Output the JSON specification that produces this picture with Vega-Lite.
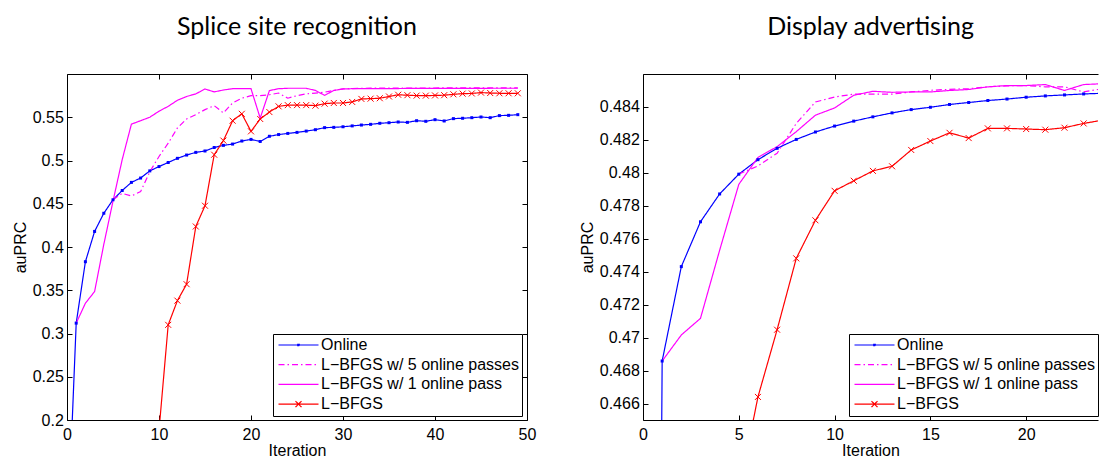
{
  "$schema": "https://vega.github.io/schema/vega-lite/v6.json",
  "padding": {"left": 12, "top": 14, "right": 0, "bottom": 0},
  "background": "white",
  "datasets": {
    "splice": [
      {"series": "Online", "iter": 0, "auprc": 0.05},
      {"series": "Online", "iter": 1, "auprc": 0.312},
      {"series": "Online", "iter": 2, "auprc": 0.383},
      {"series": "Online", "iter": 3, "auprc": 0.418},
      {"series": "Online", "iter": 4, "auprc": 0.439},
      {"series": "Online", "iter": 5, "auprc": 0.4546},
      {"series": "Online", "iter": 6, "auprc": 0.4653},
      {"series": "Online", "iter": 7, "auprc": 0.4747},
      {"series": "Online", "iter": 8, "auprc": 0.4797},
      {"series": "Online", "iter": 9, "auprc": 0.488},
      {"series": "Online", "iter": 10, "auprc": 0.493},
      {"series": "Online", "iter": 11, "auprc": 0.4977},
      {"series": "Online", "iter": 12, "auprc": 0.5025},
      {"series": "Online", "iter": 13, "auprc": 0.5063},
      {"series": "Online", "iter": 14, "auprc": 0.5094},
      {"series": "Online", "iter": 15, "auprc": 0.511},
      {"series": "Online", "iter": 16, "auprc": 0.515},
      {"series": "Online", "iter": 17, "auprc": 0.5175},
      {"series": "Online", "iter": 18, "auprc": 0.519},
      {"series": "Online", "iter": 19, "auprc": 0.5225},
      {"series": "Online", "iter": 20, "auprc": 0.5244},
      {"series": "Online", "iter": 21, "auprc": 0.522},
      {"series": "Online", "iter": 22, "auprc": 0.528},
      {"series": "Online", "iter": 23, "auprc": 0.53},
      {"series": "Online", "iter": 24, "auprc": 0.5313},
      {"series": "Online", "iter": 25, "auprc": 0.5325},
      {"series": "Online", "iter": 26, "auprc": 0.534},
      {"series": "Online", "iter": 27, "auprc": 0.5356},
      {"series": "Online", "iter": 28, "auprc": 0.538},
      {"series": "Online", "iter": 29, "auprc": 0.5383},
      {"series": "Online", "iter": 30, "auprc": 0.539},
      {"series": "Online", "iter": 31, "auprc": 0.54},
      {"series": "Online", "iter": 32, "auprc": 0.541},
      {"series": "Online", "iter": 33, "auprc": 0.5418},
      {"series": "Online", "iter": 34, "auprc": 0.543},
      {"series": "Online", "iter": 35, "auprc": 0.5437},
      {"series": "Online", "iter": 36, "auprc": 0.5445},
      {"series": "Online", "iter": 37, "auprc": 0.5441},
      {"series": "Online", "iter": 38, "auprc": 0.546},
      {"series": "Online", "iter": 39, "auprc": 0.5453},
      {"series": "Online", "iter": 40, "auprc": 0.5472},
      {"series": "Online", "iter": 41, "auprc": 0.5457},
      {"series": "Online", "iter": 42, "auprc": 0.5484},
      {"series": "Online", "iter": 43, "auprc": 0.5488},
      {"series": "Online", "iter": 44, "auprc": 0.5495},
      {"series": "Online", "iter": 45, "auprc": 0.5503},
      {"series": "Online", "iter": 46, "auprc": 0.5495},
      {"series": "Online", "iter": 47, "auprc": 0.5519},
      {"series": "Online", "iter": 48, "auprc": 0.5522},
      {"series": "Online", "iter": 49, "auprc": 0.553},
      {"series": "L−BFGS w/ 5 online passes", "iter": 5, "auprc": 0.4546},
      {"series": "L−BFGS w/ 5 online passes", "iter": 6, "auprc": 0.462},
      {"series": "L−BFGS w/ 5 online passes", "iter": 7, "auprc": 0.459},
      {"series": "L−BFGS w/ 5 online passes", "iter": 8, "auprc": 0.464},
      {"series": "L−BFGS w/ 5 online passes", "iter": 9, "auprc": 0.487},
      {"series": "L−BFGS w/ 5 online passes", "iter": 10, "auprc": 0.5046},
      {"series": "L−BFGS w/ 5 online passes", "iter": 11, "auprc": 0.52},
      {"series": "L−BFGS w/ 5 online passes", "iter": 12, "auprc": 0.5376},
      {"series": "L−BFGS w/ 5 online passes", "iter": 13, "auprc": 0.548},
      {"series": "L−BFGS w/ 5 online passes", "iter": 14, "auprc": 0.553},
      {"series": "L−BFGS w/ 5 online passes", "iter": 15, "auprc": 0.5588},
      {"series": "L−BFGS w/ 5 online passes", "iter": 16, "auprc": 0.5634},
      {"series": "L−BFGS w/ 5 online passes", "iter": 17, "auprc": 0.555},
      {"series": "L−BFGS w/ 5 online passes", "iter": 18, "auprc": 0.5665},
      {"series": "L−BFGS w/ 5 online passes", "iter": 19, "auprc": 0.572},
      {"series": "L−BFGS w/ 5 online passes", "iter": 20, "auprc": 0.575},
      {"series": "L−BFGS w/ 5 online passes", "iter": 21, "auprc": 0.575},
      {"series": "L−BFGS w/ 5 online passes", "iter": 22, "auprc": 0.576},
      {"series": "L−BFGS w/ 5 online passes", "iter": 23, "auprc": 0.578},
      {"series": "L−BFGS w/ 5 online passes", "iter": 24, "auprc": 0.572},
      {"series": "L−BFGS w/ 5 online passes", "iter": 25, "auprc": 0.575},
      {"series": "L−BFGS w/ 5 online passes", "iter": 26, "auprc": 0.577},
      {"series": "L−BFGS w/ 5 online passes", "iter": 27, "auprc": 0.578},
      {"series": "L−BFGS w/ 5 online passes", "iter": 28, "auprc": 0.579},
      {"series": "L−BFGS w/ 5 online passes", "iter": 29, "auprc": 0.581},
      {"series": "L−BFGS w/ 5 online passes", "iter": 30, "auprc": 0.5827},
      {"series": "L−BFGS w/ 5 online passes", "iter": 31, "auprc": 0.5832},
      {"series": "L−BFGS w/ 5 online passes", "iter": 32, "auprc": 0.5835},
      {"series": "L−BFGS w/ 5 online passes", "iter": 33, "auprc": 0.5836},
      {"series": "L−BFGS w/ 5 online passes", "iter": 34, "auprc": 0.5836},
      {"series": "L−BFGS w/ 5 online passes", "iter": 35, "auprc": 0.5837},
      {"series": "L−BFGS w/ 5 online passes", "iter": 36, "auprc": 0.5837},
      {"series": "L−BFGS w/ 5 online passes", "iter": 37, "auprc": 0.5838},
      {"series": "L−BFGS w/ 5 online passes", "iter": 38, "auprc": 0.5838},
      {"series": "L−BFGS w/ 5 online passes", "iter": 39, "auprc": 0.5838},
      {"series": "L−BFGS w/ 5 online passes", "iter": 40, "auprc": 0.5838},
      {"series": "L−BFGS w/ 5 online passes", "iter": 41, "auprc": 0.5839},
      {"series": "L−BFGS w/ 5 online passes", "iter": 42, "auprc": 0.5839},
      {"series": "L−BFGS w/ 5 online passes", "iter": 43, "auprc": 0.5839},
      {"series": "L−BFGS w/ 5 online passes", "iter": 44, "auprc": 0.5839},
      {"series": "L−BFGS w/ 5 online passes", "iter": 45, "auprc": 0.5839},
      {"series": "L−BFGS w/ 5 online passes", "iter": 46, "auprc": 0.584},
      {"series": "L−BFGS w/ 5 online passes", "iter": 47, "auprc": 0.584},
      {"series": "L−BFGS w/ 5 online passes", "iter": 48, "auprc": 0.584},
      {"series": "L−BFGS w/ 5 online passes", "iter": 49, "auprc": 0.584},
      {"series": "L−BFGS w/ 1 online pass", "iter": 1, "auprc": 0.312},
      {"series": "L−BFGS w/ 1 online pass", "iter": 2, "auprc": 0.335},
      {"series": "L−BFGS w/ 1 online pass", "iter": 3, "auprc": 0.3485},
      {"series": "L−BFGS w/ 1 online pass", "iter": 4, "auprc": 0.403},
      {"series": "L−BFGS w/ 1 online pass", "iter": 5, "auprc": 0.453},
      {"series": "L−BFGS w/ 1 online pass", "iter": 6, "auprc": 0.501},
      {"series": "L−BFGS w/ 1 online pass", "iter": 7, "auprc": 0.542},
      {"series": "L−BFGS w/ 1 online pass", "iter": 8, "auprc": 0.546},
      {"series": "L−BFGS w/ 1 online pass", "iter": 9, "auprc": 0.55},
      {"series": "L−BFGS w/ 1 online pass", "iter": 10, "auprc": 0.557},
      {"series": "L−BFGS w/ 1 online pass", "iter": 11, "auprc": 0.5626},
      {"series": "L−BFGS w/ 1 online pass", "iter": 12, "auprc": 0.5696},
      {"series": "L−BFGS w/ 1 online pass", "iter": 13, "auprc": 0.574},
      {"series": "L−BFGS w/ 1 online pass", "iter": 14, "auprc": 0.577},
      {"series": "L−BFGS w/ 1 online pass", "iter": 15, "auprc": 0.5827},
      {"series": "L−BFGS w/ 1 online pass", "iter": 16, "auprc": 0.5793},
      {"series": "L−BFGS w/ 1 online pass", "iter": 17, "auprc": 0.5815},
      {"series": "L−BFGS w/ 1 online pass", "iter": 18, "auprc": 0.583},
      {"series": "L−BFGS w/ 1 online pass", "iter": 19, "auprc": 0.583},
      {"series": "L−BFGS w/ 1 online pass", "iter": 20, "auprc": 0.583},
      {"series": "L−BFGS w/ 1 online pass", "iter": 21, "auprc": 0.549},
      {"series": "L−BFGS w/ 1 online pass", "iter": 22, "auprc": 0.5808},
      {"series": "L−BFGS w/ 1 online pass", "iter": 23, "auprc": 0.583},
      {"series": "L−BFGS w/ 1 online pass", "iter": 24, "auprc": 0.5835},
      {"series": "L−BFGS w/ 1 online pass", "iter": 25, "auprc": 0.5835},
      {"series": "L−BFGS w/ 1 online pass", "iter": 26, "auprc": 0.5835},
      {"series": "L−BFGS w/ 1 online pass", "iter": 27, "auprc": 0.581},
      {"series": "L−BFGS w/ 1 online pass", "iter": 28, "auprc": 0.5753},
      {"series": "L−BFGS w/ 1 online pass", "iter": 29, "auprc": 0.581},
      {"series": "L−BFGS w/ 1 online pass", "iter": 30, "auprc": 0.5827},
      {"series": "L−BFGS w/ 1 online pass", "iter": 31, "auprc": 0.583},
      {"series": "L−BFGS w/ 1 online pass", "iter": 32, "auprc": 0.5831},
      {"series": "L−BFGS w/ 1 online pass", "iter": 33, "auprc": 0.5831},
      {"series": "L−BFGS w/ 1 online pass", "iter": 34, "auprc": 0.5832},
      {"series": "L−BFGS w/ 1 online pass", "iter": 35, "auprc": 0.5832},
      {"series": "L−BFGS w/ 1 online pass", "iter": 36, "auprc": 0.5832},
      {"series": "L−BFGS w/ 1 online pass", "iter": 37, "auprc": 0.5833},
      {"series": "L−BFGS w/ 1 online pass", "iter": 38, "auprc": 0.5833},
      {"series": "L−BFGS w/ 1 online pass", "iter": 39, "auprc": 0.5833},
      {"series": "L−BFGS w/ 1 online pass", "iter": 40, "auprc": 0.5833},
      {"series": "L−BFGS w/ 1 online pass", "iter": 41, "auprc": 0.5834},
      {"series": "L−BFGS w/ 1 online pass", "iter": 42, "auprc": 0.5834},
      {"series": "L−BFGS w/ 1 online pass", "iter": 43, "auprc": 0.5834},
      {"series": "L−BFGS w/ 1 online pass", "iter": 44, "auprc": 0.5834},
      {"series": "L−BFGS w/ 1 online pass", "iter": 45, "auprc": 0.5834},
      {"series": "L−BFGS w/ 1 online pass", "iter": 46, "auprc": 0.5835},
      {"series": "L−BFGS w/ 1 online pass", "iter": 47, "auprc": 0.5835},
      {"series": "L−BFGS w/ 1 online pass", "iter": 48, "auprc": 0.5835},
      {"series": "L−BFGS w/ 1 online pass", "iter": 49, "auprc": 0.5835},
      {"series": "L−BFGS", "iter": 10, "auprc": 0.188},
      {"series": "L−BFGS", "iter": 11, "auprc": 0.31},
      {"series": "L−BFGS", "iter": 12, "auprc": 0.338},
      {"series": "L−BFGS", "iter": 13, "auprc": 0.357},
      {"series": "L−BFGS", "iter": 14, "auprc": 0.4237},
      {"series": "L−BFGS", "iter": 15, "auprc": 0.4477},
      {"series": "L−BFGS", "iter": 16, "auprc": 0.5067},
      {"series": "L−BFGS", "iter": 17, "auprc": 0.523},
      {"series": "L−BFGS", "iter": 18, "auprc": 0.546},
      {"series": "L−BFGS", "iter": 19, "auprc": 0.554},
      {"series": "L−BFGS", "iter": 20, "auprc": 0.5337},
      {"series": "L−BFGS", "iter": 21, "auprc": 0.548},
      {"series": "L−BFGS", "iter": 22, "auprc": 0.556},
      {"series": "L−BFGS", "iter": 23, "auprc": 0.5626},
      {"series": "L−BFGS", "iter": 24, "auprc": 0.564},
      {"series": "L−BFGS", "iter": 25, "auprc": 0.564},
      {"series": "L−BFGS", "iter": 26, "auprc": 0.564},
      {"series": "L−BFGS", "iter": 27, "auprc": 0.5634},
      {"series": "L−BFGS", "iter": 28, "auprc": 0.5657},
      {"series": "L−BFGS", "iter": 29, "auprc": 0.5665},
      {"series": "L−BFGS", "iter": 30, "auprc": 0.5665},
      {"series": "L−BFGS", "iter": 31, "auprc": 0.5677},
      {"series": "L−BFGS", "iter": 32, "auprc": 0.5712},
      {"series": "L−BFGS", "iter": 33, "auprc": 0.5715},
      {"series": "L−BFGS", "iter": 34, "auprc": 0.572},
      {"series": "L−BFGS", "iter": 35, "auprc": 0.574},
      {"series": "L−BFGS", "iter": 36, "auprc": 0.576},
      {"series": "L−BFGS", "iter": 37, "auprc": 0.5755},
      {"series": "L−BFGS", "iter": 38, "auprc": 0.575},
      {"series": "L−BFGS", "iter": 39, "auprc": 0.575},
      {"series": "L−BFGS", "iter": 40, "auprc": 0.5752},
      {"series": "L−BFGS", "iter": 41, "auprc": 0.5755},
      {"series": "L−BFGS", "iter": 42, "auprc": 0.5765},
      {"series": "L−BFGS", "iter": 43, "auprc": 0.5773},
      {"series": "L−BFGS", "iter": 44, "auprc": 0.5775},
      {"series": "L−BFGS", "iter": 45, "auprc": 0.5785},
      {"series": "L−BFGS", "iter": 46, "auprc": 0.578},
      {"series": "L−BFGS", "iter": 47, "auprc": 0.5777},
      {"series": "L−BFGS", "iter": 48, "auprc": 0.5777},
      {"series": "L−BFGS", "iter": 49, "auprc": 0.5777}
    ],
    "display": [
      {"series": "Online", "iter": 0, "auprc": 0.30},
      {"series": "Online", "iter": 1, "auprc": 0.46858},
      {"series": "Online", "iter": 2, "auprc": 0.47431},
      {"series": "Online", "iter": 3, "auprc": 0.47703},
      {"series": "Online", "iter": 4, "auprc": 0.47872},
      {"series": "Online", "iter": 5, "auprc": 0.47992},
      {"series": "Online", "iter": 6, "auprc": 0.4808},
      {"series": "Online", "iter": 7, "auprc": 0.48149},
      {"series": "Online", "iter": 8, "auprc": 0.48203},
      {"series": "Online", "iter": 9, "auprc": 0.48248},
      {"series": "Online", "iter": 10, "auprc": 0.48284},
      {"series": "Online", "iter": 11, "auprc": 0.48314},
      {"series": "Online", "iter": 12, "auprc": 0.4834},
      {"series": "Online", "iter": 13, "auprc": 0.48364},
      {"series": "Online", "iter": 14, "auprc": 0.48384},
      {"series": "Online", "iter": 15, "auprc": 0.48398},
      {"series": "Online", "iter": 16, "auprc": 0.48415},
      {"series": "Online", "iter": 17, "auprc": 0.48427},
      {"series": "Online", "iter": 18, "auprc": 0.48439},
      {"series": "Online", "iter": 19, "auprc": 0.48448},
      {"series": "Online", "iter": 20, "auprc": 0.48459},
      {"series": "Online", "iter": 21, "auprc": 0.48467},
      {"series": "Online", "iter": 22, "auprc": 0.48473},
      {"series": "Online", "iter": 23, "auprc": 0.48479},
      {"series": "Online", "iter": 24, "auprc": 0.48483},
      {"series": "L−BFGS w/ 5 online passes", "iter": 5, "auprc": 0.47992},
      {"series": "L−BFGS w/ 5 online passes", "iter": 6, "auprc": 0.48042},
      {"series": "L−BFGS w/ 5 online passes", "iter": 7, "auprc": 0.48119},
      {"series": "L−BFGS w/ 5 online passes", "iter": 8, "auprc": 0.483},
      {"series": "L−BFGS w/ 5 online passes", "iter": 9, "auprc": 0.4843},
      {"series": "L−BFGS w/ 5 online passes", "iter": 10, "auprc": 0.4846},
      {"series": "L−BFGS w/ 5 online passes", "iter": 11, "auprc": 0.48478},
      {"series": "L−BFGS w/ 5 online passes", "iter": 12, "auprc": 0.48478},
      {"series": "L−BFGS w/ 5 online passes", "iter": 13, "auprc": 0.48478},
      {"series": "L−BFGS w/ 5 online passes", "iter": 14, "auprc": 0.48491},
      {"series": "L−BFGS w/ 5 online passes", "iter": 15, "auprc": 0.48501},
      {"series": "L−BFGS w/ 5 online passes", "iter": 16, "auprc": 0.48507},
      {"series": "L−BFGS w/ 5 online passes", "iter": 17, "auprc": 0.48511},
      {"series": "L−BFGS w/ 5 online passes", "iter": 18, "auprc": 0.48522},
      {"series": "L−BFGS w/ 5 online passes", "iter": 19, "auprc": 0.48528},
      {"series": "L−BFGS w/ 5 online passes", "iter": 20, "auprc": 0.4853},
      {"series": "L−BFGS w/ 5 online passes", "iter": 21, "auprc": 0.48522},
      {"series": "L−BFGS w/ 5 online passes", "iter": 22, "auprc": 0.48522},
      {"series": "L−BFGS w/ 5 online passes", "iter": 23, "auprc": 0.48491},
      {"series": "L−BFGS w/ 5 online passes", "iter": 24, "auprc": 0.48511},
      {"series": "L−BFGS w/ 1 online pass", "iter": 1, "auprc": 0.46858},
      {"series": "L−BFGS w/ 1 online pass", "iter": 2, "auprc": 0.47016},
      {"series": "L−BFGS w/ 1 online pass", "iter": 3, "auprc": 0.47117},
      {"series": "L−BFGS w/ 1 online pass", "iter": 4, "auprc": 0.4753},
      {"series": "L−BFGS w/ 1 online pass", "iter": 5, "auprc": 0.4793},
      {"series": "L−BFGS w/ 1 online pass", "iter": 6, "auprc": 0.48094},
      {"series": "L−BFGS w/ 1 online pass", "iter": 7, "auprc": 0.48159},
      {"series": "L−BFGS w/ 1 online pass", "iter": 8, "auprc": 0.4825},
      {"series": "L−BFGS w/ 1 online pass", "iter": 9, "auprc": 0.4835},
      {"series": "L−BFGS w/ 1 online pass", "iter": 10, "auprc": 0.48394},
      {"series": "L−BFGS w/ 1 online pass", "iter": 11, "auprc": 0.48471},
      {"series": "L−BFGS w/ 1 online pass", "iter": 12, "auprc": 0.48495},
      {"series": "L−BFGS w/ 1 online pass", "iter": 13, "auprc": 0.48489},
      {"series": "L−BFGS w/ 1 online pass", "iter": 14, "auprc": 0.48491},
      {"series": "L−BFGS w/ 1 online pass", "iter": 15, "auprc": 0.48491},
      {"series": "L−BFGS w/ 1 online pass", "iter": 16, "auprc": 0.485},
      {"series": "L−BFGS w/ 1 online pass", "iter": 17, "auprc": 0.48506},
      {"series": "L−BFGS w/ 1 online pass", "iter": 18, "auprc": 0.48522},
      {"series": "L−BFGS w/ 1 online pass", "iter": 19, "auprc": 0.4853},
      {"series": "L−BFGS w/ 1 online pass", "iter": 20, "auprc": 0.4853},
      {"series": "L−BFGS w/ 1 online pass", "iter": 21, "auprc": 0.48536},
      {"series": "L−BFGS w/ 1 online pass", "iter": 22, "auprc": 0.485},
      {"series": "L−BFGS w/ 1 online pass", "iter": 23, "auprc": 0.48536},
      {"series": "L−BFGS w/ 1 online pass", "iter": 24, "auprc": 0.48541},
      {"series": "L−BFGS", "iter": 5, "auprc": 0.4606},
      {"series": "L−BFGS", "iter": 6, "auprc": 0.4664},
      {"series": "L−BFGS", "iter": 7, "auprc": 0.47048},
      {"series": "L−BFGS", "iter": 8, "auprc": 0.47481},
      {"series": "L−BFGS", "iter": 9, "auprc": 0.47712},
      {"series": "L−BFGS", "iter": 10, "auprc": 0.47891},
      {"series": "L−BFGS", "iter": 11, "auprc": 0.47952},
      {"series": "L−BFGS", "iter": 12, "auprc": 0.48012},
      {"series": "L−BFGS", "iter": 13, "auprc": 0.4804},
      {"series": "L−BFGS", "iter": 14, "auprc": 0.48139},
      {"series": "L−BFGS", "iter": 15, "auprc": 0.48193},
      {"series": "L−BFGS", "iter": 16, "auprc": 0.48243},
      {"series": "L−BFGS", "iter": 17, "auprc": 0.48211},
      {"series": "L−BFGS", "iter": 18, "auprc": 0.4827},
      {"series": "L−BFGS", "iter": 19, "auprc": 0.4827},
      {"series": "L−BFGS", "iter": 20, "auprc": 0.48266},
      {"series": "L−BFGS", "iter": 21, "auprc": 0.48262},
      {"series": "L−BFGS", "iter": 22, "auprc": 0.48274},
      {"series": "L−BFGS", "iter": 23, "auprc": 0.483},
      {"series": "L−BFGS", "iter": 24, "auprc": 0.4832}
    ]
  },
  "config": {
    "view": {"stroke": null},
    "axis": {
      "grid": false, "domainColor": "#000", "domainWidth": 1, "tickColor": "#000", "tickSize": -5, "tickWidth": 1,
      "labelFont": "Liberation Sans", "labelFontSize": 16, "labelColor": "#000", "labelFlush": false, "labelOverlap": false,
      "titleFont": "Liberation Sans", "titleFontSize": 16, "titleFontWeight": "normal", "titleColor": "#000"
    },
    "axisX": {"labelPadding": 11.5, "titlePadding": 0},
    "axisY": {"labelPadding": 8.7, "titlePadding": 4},
    "title": {"font": "Lato", "fontSize": 25, "fontWeight": "normal", "color": "#000", "baseline": "alphabetic", "offset": 34, "anchor": "middle"},
    "legend": {
      "orient": "none", "legendX": 206, "legendY": 260, "padding": 3, "rowPadding": 3.7,
      "strokeColor": "#000", "fillColor": "#fff", "cornerRadius": 0,
      "labelFont": "Liberation Sans", "labelFontSize": 16, "labelColor": "#000", "labelLimit": 400,
      "labelOffset": 14.6, "symbolOffset": 14.5, "symbolSize": 100, "symbolStrokeWidth": 1.2
    }
  },
  "spacing": 43,
  "resolve": {"scale": {"color": "independent", "strokeDash": "independent"}},
  "hconcat": [
    {
      "title": "Splice site recognition",
      "width": 460, "height": 346,
      "data": {"name": "splice"},
      "layer": [
        {
          "mark": {"type": "line", "clip": true, "strokeWidth": 1.2},
          "encoding": {
            "x": {"field": "iter", "type": "quantitative", "scale": {"domain": [0, 50], "nice": false, "zero": false}, "axis": {"orient": "bottom", "values": [0, 10, 20, 30, 40, 50], "format": "d", "title": "Iteration"}},
            "y": {"field": "auprc", "type": "quantitative", "scale": {"domain": [0.2, 0.6], "nice": false, "zero": false}, "axis": {"orient": "left", "values": [0.2, 0.25, 0.3, 0.35, 0.4, 0.45, 0.5, 0.55], "format": "~f", "title": "auPRC"}},
            "color": {"field": "series", "type": "nominal", "sort": null,
              "scale": {"domain": ["Online", "L−BFGS w/ 5 online passes", "L−BFGS w/ 1 online pass", "L−BFGS"], "range": ["#0000ff", "#ff00ff", "#ff00ff", "#ff0000"]},
              "legend": {"title": null, "encode": {"symbols": {"update": {"shape": {"signal": "datum.value === 'Online' ? 'M-4,0H4M-0.15,-0.15H0.15V0.15H-0.15Z' : (datum.value === 'L−BFGS' ? 'M-4,0H4M-0.6,-0.6L0.6,0.6M0.6,-0.6L-0.6,0.6' : 'M-4,0H4')"}}}}}},
            "strokeDash": {"field": "series", "type": "nominal", "sort": null,
              "scale": {"domain": ["Online", "L−BFGS w/ 5 online passes", "L−BFGS w/ 1 online pass", "L−BFGS"], "range": [[1, 0], [6, 3, 1.5, 3], [1, 0], [1, 0]]},
              "legend": {"title": null, "encode": {"symbols": {"update": {"shape": {"signal": "datum.value === 'Online' ? 'M-4,0H4M-0.15,-0.15H0.15V0.15H-0.15Z' : (datum.value === 'L−BFGS' ? 'M-4,0H4M-0.6,-0.6L0.6,0.6M0.6,-0.6L-0.6,0.6' : 'M-4,0H4')"}}}}}}
          }
        },
        {
          "transform": [{"filter": "datum.series == 'Online'"}],
          "mark": {"type": "point", "clip": true, "filled": true, "size": 9, "shape": "square", "color": "#0000ff", "opacity": 1},
          "encoding": {
            "x": {"field": "iter", "type": "quantitative", "scale": {"domain": [0, 50], "nice": false, "zero": false}, "axis": {"orient": "top", "values": [0, 10, 20, 30, 40, 50], "labels": false, "title": null}},
            "y": {"field": "auprc", "type": "quantitative", "scale": {"domain": [0.2, 0.6], "nice": false, "zero": false}, "axis": {"orient": "right", "values": [0.2, 0.25, 0.3, 0.35, 0.4, 0.45, 0.5, 0.55], "labels": false, "title": null}}
          }
        },
        {
          "transform": [{"filter": "datum.series == 'L−BFGS'"}],
          "mark": {"type": "point", "clip": true, "filled": false, "size": 36, "shape": "M-1,-1L1,1M1,-1L-1,1", "color": "#ff0000", "strokeWidth": 1, "opacity": 1},
          "encoding": {
            "x": {"field": "iter", "type": "quantitative", "scale": {"domain": [0, 50], "nice": false, "zero": false}, "axis": null},
            "y": {"field": "auprc", "type": "quantitative", "scale": {"domain": [0.2, 0.6], "nice": false, "zero": false}, "axis": null}
          }
        }
      ],
      "resolve": {"axis": {"x": "independent", "y": "independent"}}
    },
    {
      "title": "Display advertising",
      "width": 455, "height": 346,
      "data": {"name": "display"},
      "layer": [
        {
          "mark": {"type": "line", "clip": true, "strokeWidth": 1.2},
          "encoding": {
            "x": {"field": "iter", "type": "quantitative", "scale": {"domain": [0, 23.75], "nice": false, "zero": false}, "axis": {"orient": "bottom", "values": [0, 5, 10, 15, 20], "format": "d", "title": "Iteration"}},
            "y": {"field": "auprc", "type": "quantitative", "scale": {"domain": [0.465, 0.486], "nice": false, "zero": false}, "axis": {"orient": "left", "values": [0.466, 0.468, 0.47, 0.472, 0.474, 0.476, 0.478, 0.48, 0.482, 0.484], "format": "~f", "title": "auPRC"}},
            "color": {"field": "series", "type": "nominal", "sort": null,
              "scale": {"domain": ["Online", "L−BFGS w/ 5 online passes", "L−BFGS w/ 1 online pass", "L−BFGS"], "range": ["#0000ff", "#ff00ff", "#ff00ff", "#ff0000"]},
              "legend": {"title": null, "encode": {"symbols": {"update": {"shape": {"signal": "datum.value === 'Online' ? 'M-4,0H4M-0.15,-0.15H0.15V0.15H-0.15Z' : (datum.value === 'L−BFGS' ? 'M-4,0H4M-0.6,-0.6L0.6,0.6M0.6,-0.6L-0.6,0.6' : 'M-4,0H4')"}}}}}},
            "strokeDash": {"field": "series", "type": "nominal", "sort": null,
              "scale": {"domain": ["Online", "L−BFGS w/ 5 online passes", "L−BFGS w/ 1 online pass", "L−BFGS"], "range": [[1, 0], [6, 3, 1.5, 3], [1, 0], [1, 0]]},
              "legend": {"title": null, "encode": {"symbols": {"update": {"shape": {"signal": "datum.value === 'Online' ? 'M-4,0H4M-0.15,-0.15H0.15V0.15H-0.15Z' : (datum.value === 'L−BFGS' ? 'M-4,0H4M-0.6,-0.6L0.6,0.6M0.6,-0.6L-0.6,0.6' : 'M-4,0H4')"}}}}}}
          }
        },
        {
          "transform": [{"filter": "datum.series == 'Online'"}],
          "mark": {"type": "point", "clip": true, "filled": true, "size": 9, "shape": "square", "color": "#0000ff", "opacity": 1},
          "encoding": {
            "x": {"field": "iter", "type": "quantitative", "scale": {"domain": [0, 23.75], "nice": false, "zero": false}, "axis": {"orient": "top", "values": [0, 5, 10, 15, 20], "labels": false, "title": null}},
            "y": {"field": "auprc", "type": "quantitative", "scale": {"domain": [0.465, 0.486], "nice": false, "zero": false}, "axis": null}
          }
        },
        {
          "transform": [{"filter": "datum.series == 'L−BFGS'"}],
          "mark": {"type": "point", "clip": true, "filled": false, "size": 36, "shape": "M-1,-1L1,1M1,-1L-1,1", "color": "#ff0000", "strokeWidth": 1, "opacity": 1},
          "encoding": {
            "x": {"field": "iter", "type": "quantitative", "scale": {"domain": [0, 23.75], "nice": false, "zero": false}, "axis": null},
            "y": {"field": "auprc", "type": "quantitative", "scale": {"domain": [0.465, 0.486], "nice": false, "zero": false}, "axis": null}
          }
        }
      ],
      "resolve": {"axis": {"x": "independent", "y": "independent"}}
    }
  ]
}
